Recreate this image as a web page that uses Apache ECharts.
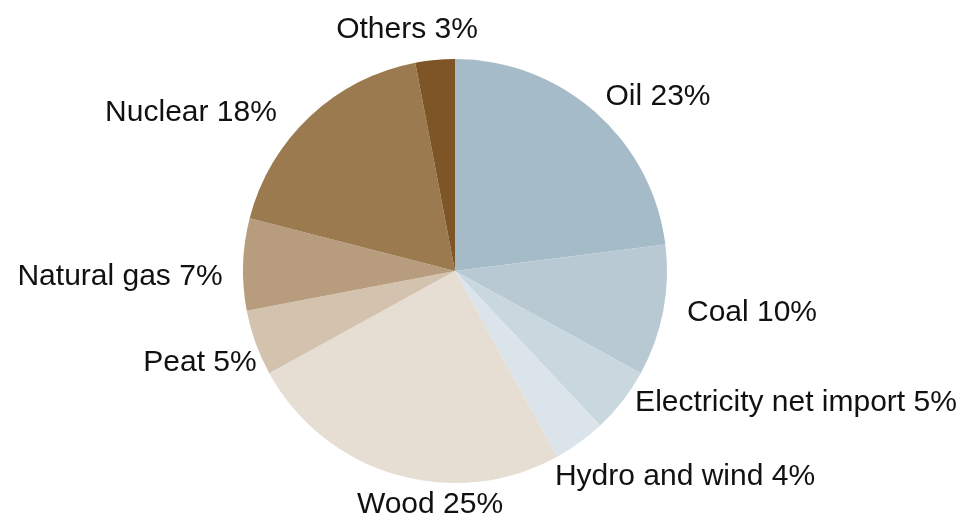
<!DOCTYPE html>
<html>
<head>
<meta charset="utf-8">
<script src="https://cdn.jsdelivr.net/npm/echarts@6/dist/echarts.min.js"></script>
<style>
    html, body { margin: 0; padding: 0; background: #fff; }
    #chart { width: 963px; height: 521px; }
</style>
</head>
<body>
<div id="chart"></div>
<script>
var names = ['Oil', 'Coal', 'Electricity net import', 'Hydro and wind', 'Wood', 'Peat', 'Natural gas', 'Nuclear', 'Others'];
var shares = [23, 10, 5, 4, 25, 5, 7, 18, 3];
var colors = ['#a5bcc8', '#b8c9d3', '#c9d7df', '#dae4ea', '#e6ddd3', '#d3c2ad', '#b79d7e', '#9c7a4f', '#7e5526'];

// label centres
var labelPos = [[658, 97], [752, 313], [796, 403], [685, 477], [430, 505], [200, 363], [120, 277], [191, 113], [407, 30]];

var myChart = echarts.init(document.getElementById('chart'));

var data = [];
for (var i = 0; i < names.length; i++) {
    data.push({ name: names[i], value: shares[i], itemStyle: { color: colors[i] } });
}

var option = {
    animation: false,
    series: [{
        type: 'pie',
        center: [455, 271],
        radius: 212,
        startAngle: 90,
        clockwise: true,
        data: data,
        itemStyle: { borderWidth: 0 },
        label: {
            show: true,
            position: 'outside',
            formatter: '{b} {c}%',
            fontFamily: 'Liberation Sans, Arial, sans-serif',
            fontSize: 30,
            color: '#111',
            overflow: 'none',
            width: 400
        },
        labelLine: { show: false },
        labelLayout: function (params) {
            var p = labelPos[params.dataIndex];
            return { x: p[0], y: p[1], align: 'center', verticalAlign: 'middle' };
        },
        emphasis: { disabled: true }
    }]
};

myChart.setOption(option);
</script>
</body>
</html>
